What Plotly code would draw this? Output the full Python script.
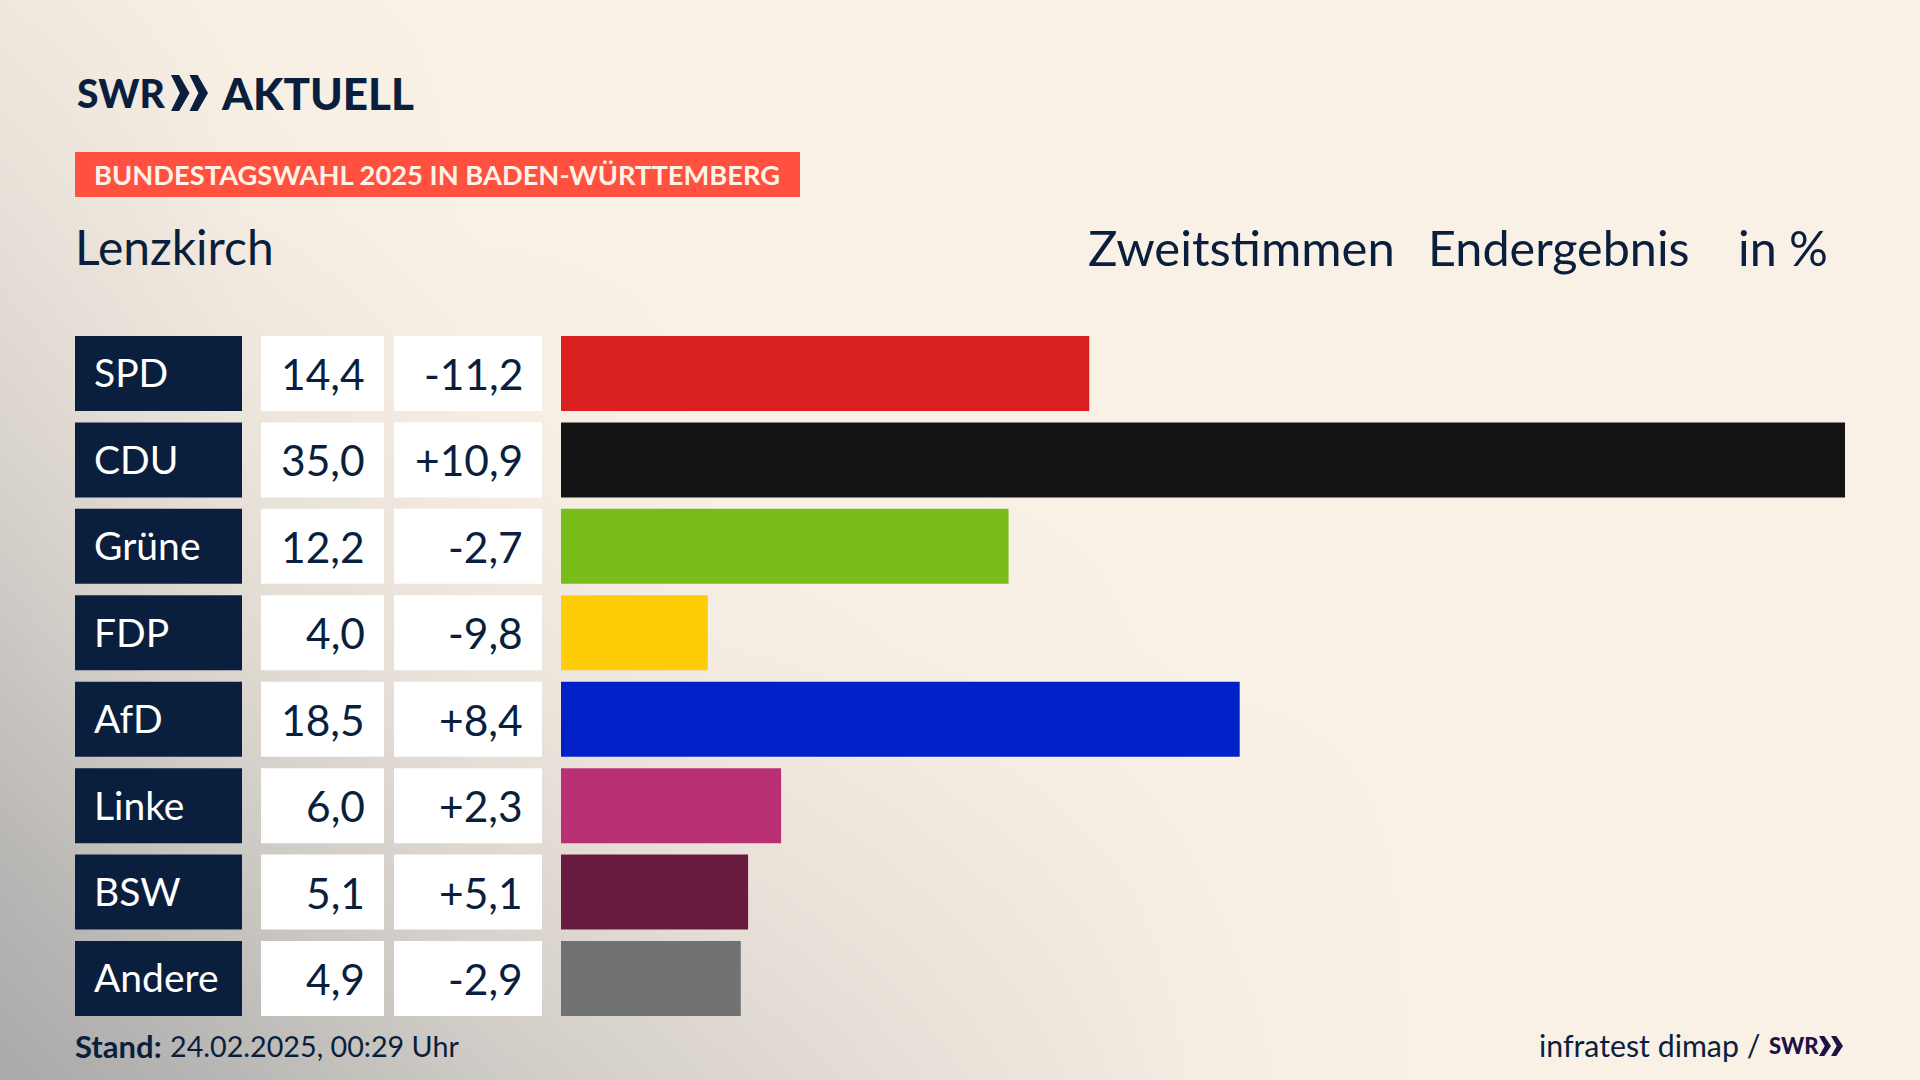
import plotly.graph_objects as go

W = 1920
H = 1080

parties = ["SPD", "CDU", "Grüne", "FDP", "AfD", "Linke", "BSW", "Andere"]
shares = [14.4, 35.0, 12.2, 4.0, 18.5, 6.0, 5.1, 4.9]
changes = [-11.2, 10.9, -2.7, -9.8, 8.4, 2.3, 5.1, -2.9]
bar_colors = ["#D9201E", "#141414", "#7ABD1A", "#FFCC08", "#0020C8", "#BA3074", "#691A3F", "#717274"]

# background tint, estimated by eye: 0 = cream, 1 = grey (rows top to bottom)
bg_x = [0, 240, 480, 720, 960, 1200, 1440, 1920]
bg_y = [0, 216, 432, 648, 864, 1080]
bg_z = [
    [0.12, 0.02, 0, 0, 0, 0, 0, 0],
    [0.25, 0.07, 0, 0, 0, 0, 0, 0],
    [0.40, 0.18, 0.06, 0, 0, 0, 0, 0],
    [0.60, 0.33, 0.15, 0.07, 0.03, 0, 0, 0],
    [0.82, 0.58, 0.36, 0.22, 0.12, 0.04, 0, 0],
    [1.00, 0.80, 0.55, 0.38, 0.22, 0.06, 0, 0],
]

NAVY = "#0A1F3D"
PURPLE = "#1E1246"
FONT = "Lato"


def fx(x):
    return x / W


def fy(y):
    return 1 - y / H


def de(v, sign=False):
    s = f"{v:+.1f}" if sign else f"{v:.1f}"
    return s.replace(".", ",")


def label(x, y, text, size, anchor="left", color=NAVY, weight=400, yref="paper"):
    return dict(
        x=fx(x), y=y if yref != "paper" else fy(y), xref="paper", yref=yref, text=text,
        showarrow=False, xanchor=anchor, yanchor="middle", borderpad=0,
        font=dict(family=FONT, size=size, color=color, weight=weight),
    )


def box(x0, x1, y0, y1, color):
    return dict(type="rect", xref="paper", yref="paper", x0=fx(x0), x1=fx(x1), y0=fy(y0), y1=fy(y1),
                fillcolor=color, line_width=0, layer="above")


def chevrons(x, y, w, h, color):
    # two >> marks from the SWR logo
    path = ""
    for off in (0, 0.5):
        pts = [(off, 0), (off + 0.22, 0), (off + 0.5, 0.5), (off + 0.22, 1), (off, 1), (off + 0.24, 0.5)]
        path += "M " + " L ".join(f"{fx(x + a * w)},{fy(y + b * h)}" for a, b in pts) + " Z "
    return dict(type="path", xref="paper", yref="paper", path=path, fillcolor=color, line_width=0, layer="above")


fig = go.Figure()

# first subplot holds the background so the bars stay above it
fig.add_trace(go.Heatmap(
    x=bg_x, y=bg_y, z=bg_z, zsmooth="best", zmin=0, zmax=1, showscale=False, hoverinfo="skip",
    colorscale=[[0, "#FAF1E6"], [1, "#A9A9A9"]], xaxis="x", yaxis="y",
))

fig.add_trace(go.Bar(
    x=shares, y=parties, orientation="h", marker_color=bar_colors, marker_line_width=0,
    xaxis="x2", yaxis="y2", hovertemplate="%{y}: %{x}<extra></extra>",
))

shapes = [
    box(75, 800, 152, 197, "#FF5040"),
    chevrons(171, 75, 37, 36, NAVY),
    chevrons(1819, 1036, 24, 20, PURPLE),
]
annotations = [
    label(76, 93, "SWR", 39, weight=900),
    label(220, 93, "AKTUELL", 44, weight=900),
    label(93, 175, "BUNDESTAGSWAHL 2025 IN BADEN-WÜRTTEMBERG", 27.3, color="#FFF3E8", weight=700),
    label(74, 246.5, "Lenzkirch", 48),
    label(1087, 246.5, "Zweitstimmen", 49),
    label(1427, 246.5, "Endergebnis", 48.5),
    label(1737, 246.5, "in %", 48.5),
    label(74, 1046, "Stand:", 31, weight=700),
    label(169, 1046, "24.02.2025, 00:29 Uhr", 28.7),
    label(1538, 1045, "infratest dimap /", 30.3),
    label(1768, 1045, "SWR", 22, color=PURPLE, weight=900),
]

# table columns left of the bars
for i, party in enumerate(parties):
    top, bottom = i - 0.434, i + 0.434
    for x0, x1, color in [(75, 242, NAVY), (261, 384, "white"), (394, 542, "white")]:
        shapes.append(dict(type="rect", xref="paper", yref="y2", x0=fx(x0), x1=fx(x1), y0=top, y1=bottom,
                           fillcolor=color, line_width=0, layer="above"))
    annotations.append(label(93, i - 0.012, party, 39, color="white", yref="y2"))
    annotations.append(label(366, i, de(shares[i]), 42.5, anchor="right", yref="y2"))
    annotations.append(label(524, i, de(changes[i], sign=True), 42.5, anchor="right", yref="y2"))

fig.update_layout(
    width=W, height=H, margin=dict(l=0, r=0, t=0, b=0, pad=0), showlegend=False, bargap=0.132,
    paper_bgcolor="#FAF1E6", plot_bgcolor="rgba(0,0,0,0)",
    xaxis=dict(domain=[0, 1], range=[0, W], visible=False),
    yaxis=dict(domain=[0, 1], range=[H, 0], visible=False),
    xaxis2=dict(domain=[fx(561), fx(1845)], range=[0, 35], visible=False, anchor="y2"),
    yaxis2=dict(domain=[fy(1021.7), fy(330.3)], autorange="reversed", visible=False, anchor="x2"),
    shapes=shapes, annotations=annotations,
)

fig.write_html(
    "out.html",
    config=dict(displayModeBar=False),
    post_script="document.body.style.margin='0';document.body.style.overflow='hidden';",
)
